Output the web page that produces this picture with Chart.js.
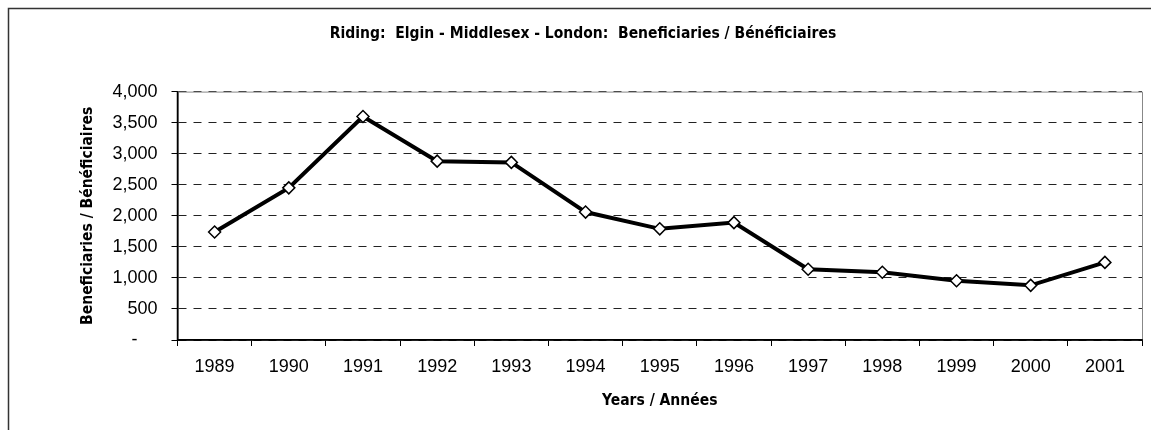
<!DOCTYPE html>
<html>
<head>
<meta charset="utf-8">
<script src="https://cdn.jsdelivr.net/npm/chart.js@4/dist/chart.umd.min.js"></script>
<style>
    html, body { margin: 0; padding: 0; background: #fff; }
    #wrap { width: 1151px; height: 430px; position: relative; }
</style>
</head>
<body>
<div id="wrap"><canvas id="chart"></canvas></div>
<script>
const years = ['1989', '1990', '1991', '1992', '1993', '1994', '1995', '1996', '1997', '1998', '1999', '2000', '2001'];
const beneficiaries = [1740, 2450, 3600, 2880, 2860, 2060, 1790, 1890, 1140, 1090, 955, 880, 1250];
const yTicks = [0, 500, 1000, 1500, 2000, 2500, 3000, 3500, 4000];

const chartTitle = 'Riding:  Elgin - Middlesex - London:  Beneficiaries / Bénéficiaires';
const yTitle = 'Beneficiaries / Bénéficiaires';
const xTitle = 'Years / Années';

const narrowBold = "'Liberation Sans Narrow', 'Arial Narrow', 'DejaVu Sans Condensed', sans-serif";
const plain = "'Liberation Sans', Arial, sans-serif";

// outer frame + plot box edges
const framePlugin = {
    id: 'frame',
    beforeDraw(chart) {
        const ctx = chart.ctx;
        ctx.save();
        ctx.strokeStyle = '#333';
        ctx.lineWidth = 1.5;
        ctx.strokeRect(8.5, 8.5, chart.width + 20, chart.height + 20);
        ctx.restore();
    },
    beforeDatasetsDraw(chart) {
        const {ctx, chartArea: a} = chart;
        ctx.save();
        ctx.setLineDash([]);
        ctx.strokeStyle = '#888';
        ctx.lineWidth = 1;
        ctx.beginPath();
        ctx.moveTo(a.left, a.top + 0.5);
        ctx.lineTo(a.right + 0.5, a.top + 0.5);
        ctx.lineTo(a.right + 0.5, a.bottom);
        ctx.stroke();
        // solid axis lines (left and bottom)
        ctx.strokeStyle = '#000';
        ctx.lineWidth = 1.5;
        ctx.beginPath();
        ctx.moveTo(a.left, a.top);
        ctx.lineTo(a.left, a.bottom);
        ctx.lineTo(a.right + 1, a.bottom);
        ctx.stroke();
        ctx.restore();
    }
};

new Chart(document.getElementById('chart'), {
    type: 'line',
    data: {
        labels: years,
        datasets: [{
            label: yTitle,
            data: beneficiaries,
            borderColor: '#000',
            borderWidth: 4,
            tension: 0,
            pointStyle: 'rectRot',
            pointRadius: 6,
            pointBackgroundColor: '#fff',
            pointBorderColor: '#000',
            pointBorderWidth: 1.5
        }]
    },
    options: {
        responsive: true,
        maintainAspectRatio: false,
        animation: false,
        devicePixelRatio: 1,
        layout: { padding: { left: 24, right: 9, top: 0, bottom: 0 } },
        plugins: {
            legend: { display: false },
            tooltip: { enabled: false },
            title: {
                display: true,
                text: chartTitle,
                color: '#000',
                font: { family: narrowBold, size: 15.5, weight: 'bold', lineHeight: 1.2 },
                padding: { top: 25, bottom: 48 }
            }
        },
        scales: {
            x: {
                offset: true,
                grid: {
                    offset: true,
                    drawOnChartArea: false,
                    color: '#000',
                    tickLength: 6
                },
                border: { color: '#000', width: 1.5 },
                ticks: {
                    color: '#000',
                    font: { family: plain, size: 18 },
                    padding: 10,
                    maxRotation: 0
                },
                title: {
                    display: true,
                    text: xTitle,
                    color: '#000',
                    font: { family: narrowBold, size: 15.5, weight: 'bold', lineHeight: 1.2 },
                    padding: { top: 0, bottom: 20 }
                },
                afterFit: scale => { scale.height = 90; }
            },
            y: {
                min: 0,
                max: 4000,
                afterBuildTicks: scale => { scale.ticks = yTicks.map(v => ({ value: v })); },
                grid: {
                    color: '#222',
                    tickLength: 6,
                    tickColor: '#000',
                    tickBorderDash: []
                },
                border: { color: '#000', width: 1.5, dash: [8, 7] },
                ticks: {
                    color: '#000',
                    font: { family: plain, size: 18 },
                    padding: 14,
                    callback: v => v === 0 ? '-    ' : v.toLocaleString('en-US')
                },
                title: {
                    display: true,
                    text: yTitle,
                    color: '#000',
                    font: { family: narrowBold, size: 15.5, weight: 'bold', lineHeight: 1.2 },
                    padding: { top: 55, bottom: 0 }
                },
                afterFit: scale => { scale.width = 153.5; }
            }
        }
    },
    plugins: [framePlugin]
});
</script>
</body>
</html>
